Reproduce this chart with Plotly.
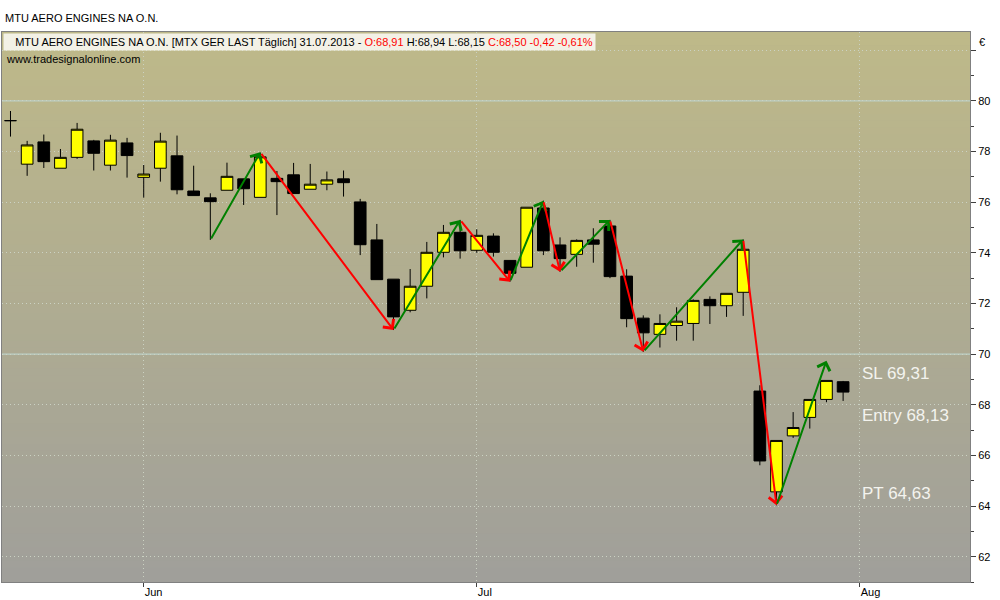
import pandas as pd
import plotly.graph_objects as go

# trading days, 22.05.2013 - 31.07.2013
dates = pd.bdate_range("2013-05-22", "2013-07-31")
opens = [79.22, 77.50, 78.38, 77.34, 77.77, 78.42, 77.46, 78.34, 76.98, 77.34,
         77.83, 76.44, 76.17, 76.47, 76.92, 76.19, 76.94, 77.08, 76.51, 76.71,
         76.92, 76.01, 74.51, 72.96, 71.73, 72.68, 74.02, 74.81, 74.10, 74.66,
         73.70, 73.43, 75.77, 74.31, 73.94, 74.51, 75.06, 73.08, 71.42, 70.78,
         71.13, 71.21, 72.16, 71.91, 72.44, 68.54, 64.56, 66.77, 67.50, 68.21,
         68.91]
highs = [79.60, 78.42, 78.67, 78.10, 79.13, 78.46, 78.66, 78.54, 77.47, 78.74,
         78.63, 77.44, 76.35, 77.56, 76.92, 77.96, 77.23, 77.55, 77.51, 77.21,
         77.25, 76.13, 75.14, 72.96, 73.36, 74.43, 75.10, 75.30, 74.93, 74.77,
         73.70, 75.80, 76.06, 74.61, 74.53, 74.97, 75.30, 73.35, 71.53, 71.57,
         71.85, 72.16, 72.28, 72.40, 74.53, 68.77, 66.59, 67.71, 68.21, 68.96,
         68.94]
lows = [78.59, 77.04, 77.35, 77.34, 77.71, 77.25, 77.25, 76.97, 76.18, 76.81,
        76.31, 76.26, 74.51, 76.47, 75.89, 76.19, 75.49, 76.34, 76.51, 76.47,
        76.22, 73.91, 72.94, 70.95, 71.65, 72.20, 73.82, 73.77, 74.00, 73.85,
        72.86, 73.43, 73.91, 73.25, 73.45, 73.61, 73.00, 71.06, 70.09, 70.26,
        70.53, 70.53, 71.19, 71.47, 71.51, 65.61, 64.03, 66.69, 67.06, 68.10,
        68.15]
closes = [79.22, 78.26, 77.60, 77.77, 78.88, 77.93, 78.45, 77.84, 77.11, 78.41,
          76.49, 76.26, 76.02, 77.02, 76.53, 77.79, 76.81, 76.34, 76.71, 76.88,
          76.77, 74.32, 72.94, 71.47, 72.68, 74.02, 74.81, 74.08, 74.69, 74.02,
          73.19, 75.80, 74.08, 73.77, 74.49, 74.34, 73.06, 71.40, 70.84, 71.21,
          71.30, 72.12, 71.91, 72.40, 74.14, 65.78, 66.59, 67.10, 68.21, 68.96,
          68.50]

# zigzag swing points (bar index, price)
swing_idx = [12, 15, 23, 27, 30, 32, 33, 36, 38, 44, 46, 49]
swing_px = [74.51, 77.97, 70.95, 75.30, 72.86, 76.06, 73.25, 75.30, 70.09, 74.53, 64.03, 69.74]

month_labels = ["Jun", "Jul", "Aug"]
month_starts = ["2013-06-03", "2013-07-01", "2013-08-01"]

price_ticks = [62, 64, 66, 68, 70, 72, 74, 76, 78, 80, 82]
price_labels = ["62", "64", "66", "68", "70", "72", "74", "76", "78", "80", ""]

levels = ["SL 69,31", "Entry 68,13", "PT 64,63"]
level_text_y = [69.25, 67.59, 64.51]

x = list(range(len(dates)))
month_pos = [len(pd.bdate_range(dates[0], d)) - 1 for d in month_starts]

fig = go.Figure()

fig.add_trace(go.Candlestick(
    x=x, open=opens, high=highs, low=lows, close=closes,
    increasing=dict(fillcolor="#FFFF00", line=dict(color="black", width=1)),
    decreasing=dict(fillcolor="black", line=dict(color="black", width=1)),
    whiskerwidth=0, hoverinfo="skip", showlegend=False))

# background gradient (olive at top, grey at bottom)
top_c = (190, 185, 137)
bot_c = (160, 159, 154)
n = 80
for i in range(n):
    t = i / (n - 1)
    c = tuple(round(top_c[k] + (bot_c[k] - top_c[k]) * t) for k in range(3))
    fig.add_shape(type="rect", xref="x domain", yref="y domain",
                  x0=0, x1=1, y0=1 - (i + 1) / n, y1=1 - i / n + 0.001,
                  fillcolor="rgb(%d,%d,%d)" % c, line_width=0, layer="below")

for lv in [70, 80]:
    fig.add_shape(type="line", xref="x domain", yref="y", x0=0, x1=1, y0=lv, y1=lv,
                  line=dict(color="#BCD0C7", width=1.3), layer="below")

# zigzag arrows
for i in range(1, len(swing_idx)):
    col = "#008000" if swing_px[i] > swing_px[i - 1] else "#FF0000"
    fig.add_annotation(x=swing_idx[i], y=swing_px[i], ax=swing_idx[i - 1], ay=swing_px[i - 1],
                       xref="x", yref="y", axref="x", ayref="y", text="",
                       showarrow=True, arrowhead=4, arrowsize=1.3, arrowwidth=2, arrowcolor=col)

for txt, ty in zip(levels, level_text_y):
    fig.add_annotation(x=len(dates), y=ty, xref="x", yref="y", text=txt, showarrow=False,
                       xanchor="left", yanchor="middle",
                       font=dict(family="Liberation Sans", size=17, color="#F3F3EE"))

# header line inside the chart
head = ("MTU AERO ENGINES NA O.N. [MTX GER LAST Täglich] 31.07.2013 - "
        "<span style='color:#FF0000'>O:68,91</span> H:68,94 L:68,15 "
        "<span style='color:#FF0000'>C:68,50 -0,42 -0,61%</span>")
fig.add_annotation(xref="paper", yref="paper", x=0, y=1, xanchor="left", yanchor="top",
                   xshift=1, yshift=-1, text="&nbsp;&nbsp;&nbsp;" + head, showarrow=False,
                   bgcolor="#F3F1E6", borderpad=2,
                   font=dict(family="Liberation Sans", size=11, color="black"))
fig.add_shape(type="line", xref="paper", yref="paper", x0=0.0083, x1=0.0083, y0=0.968, y1=0.992,
              line=dict(color="black", width=1))
fig.add_shape(type="rect", xref="paper", yref="paper", x0=0.0052, x1=0.0114, y0=0.972, y1=0.987,
              fillcolor="#FFFF00", line=dict(color="black", width=1))
fig.add_annotation(xref="paper", yref="paper", x=0, y=1, xanchor="left", yanchor="top",
                   xshift=2, yshift=-19, text="www.tradesignalonline.com", showarrow=False,
                   font=dict(family="Liberation Sans", size=11, color="black"))
fig.add_annotation(xref="paper", yref="paper", x=1, y=1, xanchor="left", yanchor="middle",
                   xshift=7, yshift=-10, text="€", showarrow=False,
                   font=dict(family="Liberation Sans", size=11, color="black"))

grid_col = "#CBD2C3"
fig.update_layout(
    width=1000, height=600,
    margin=dict(l=2, r=30, t=32, b=18, autoexpand=False),
    paper_bgcolor="white", plot_bgcolor="#B0AD95",
    boxgap=0.1, boxgroupgap=0.22,
    title=dict(text="MTU AERO ENGINES NA O.N.", x=0.005, xanchor="left", y=0.97, yanchor="middle",
               font=dict(family="Liberation Sans", size=11, color="black")),
    font=dict(family="Liberation Sans", size=11, color="black"),
    xaxis=dict(range=[-0.51, 57.62], tickvals=month_pos, ticktext=month_labels,
               ticks="outside", ticklen=4, tickcolor="#404040", ticklabelposition="outside right",
               showgrid=True, gridcolor=grid_col, griddash="1px,3px", gridwidth=1,
               showline=True, linecolor="#808080", mirror=True, zeroline=False,
               rangeslider=dict(visible=False), fixedrange=True, automargin=False),
    yaxis=dict(range=[61.0, 82.72], side="right", tickvals=price_ticks, ticktext=price_labels,
               ticks="outside", ticklen=5, tickcolor="#404040",
               minor=dict(dtick=1, ticks="outside", ticklen=3, tickcolor="#404040", showgrid=False),
               showgrid=True, gridcolor=grid_col, griddash="1px,3px", gridwidth=1,
               showline=True, linecolor="#808080", mirror=True, zeroline=False, fixedrange=True,
               automargin=False),
)

fig.write_html("out.html", config={"displayModeBar": False},
               post_script="document.body.style.margin='0';")
